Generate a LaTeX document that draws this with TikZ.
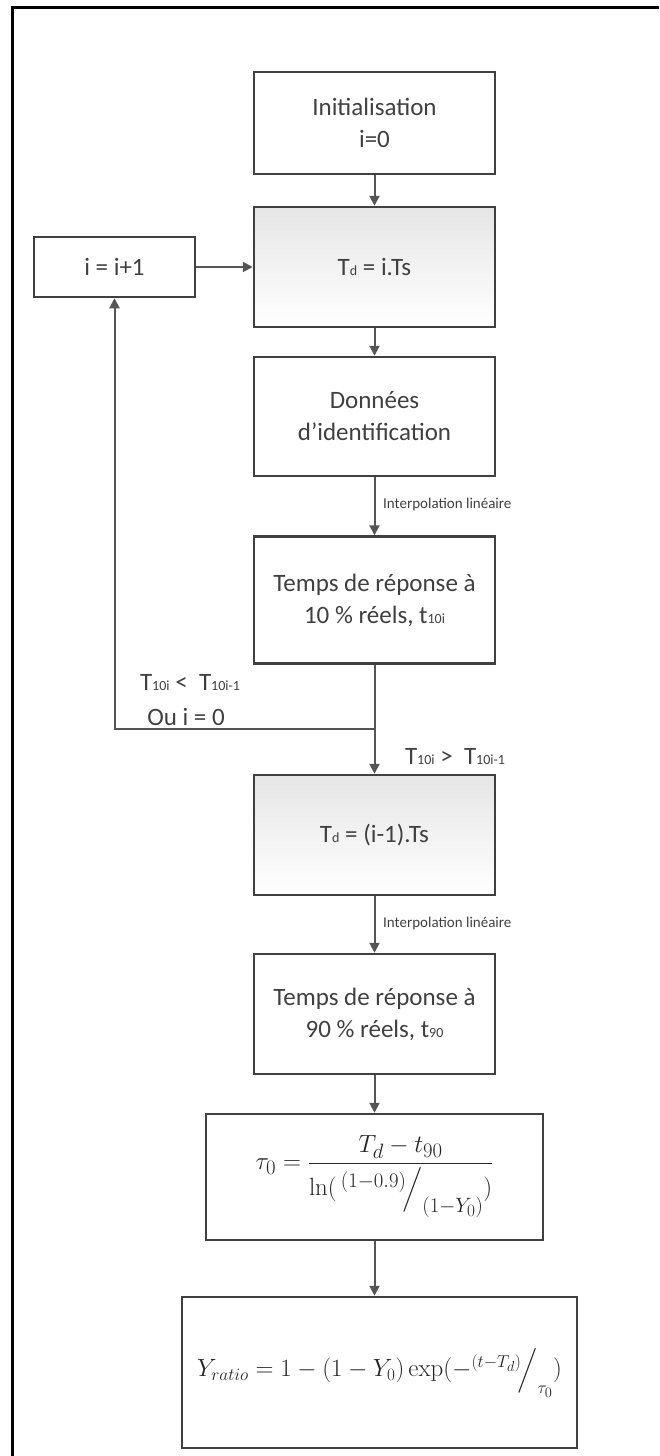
\documentclass[tikz,border=0pt]{standalone}
\usepackage{amsmath}
\usepackage[no-math]{fontspec}
\setmainfont{Carlito}
\usetikzlibrary{arrows.meta}
\DeclareMathSizes{26}{26}{20}{16}
\DeclareMathSizes{24}{24}{19}{15}
\definecolor{txt}{HTML}{404040}
\definecolor{edge}{HTML}{404040}
\definecolor{arr}{HTML}{555555}
\definecolor{mth}{HTML}{262626}
\newcommand{\sbs}[1]{{\fontsize{14}{14}\selectfont #1}}
\begin{document}
\begin{tikzpicture}[x=1pt,y=-1pt,
  box/.style={draw=edge, line width=2.5pt, fill=white, text=txt, align=center,
    font=\fontsize{25}{32}\selectfont, inner sep=0pt, minimum width=241pt},
  shadebox/.style={box, top color=black!10, bottom color=white},
  mathbox/.style={box, text=mth, font=\fontsize{26}{30}\selectfont},
  conn/.style={draw=arr, line width=2pt, -{Triangle[length=10pt,width=10pt]}},
  lbl/.style={text=txt, font=\fontsize{25}{31}\selectfont, inner sep=0pt, align=center},
  smalllbl/.style={text=txt, font=\fontsize{15}{18}\selectfont, inner sep=0pt}]
\useasboundingbox (0,0) rectangle (659,1456);
\draw[line width=3pt] (12,1456) -- (12,7) -- (659,7);

\node[box, minimum height=102pt] (init) at (374.5,123) {Initialisation\\i=0};
\node[shadebox, minimum height=120pt] (td) at (374.5,267) {T\sbs{d} = i.Ts};
\node[box, minimum width=161pt, minimum height=60pt] (inc) at (114.5,267) {i = i+1};
\node[box, minimum height=119pt] (don) at (374.5,416.5) {Données\\d’identification};
\node[box, minimum height=127pt] (t10) at (374.5,600) {Temps de réponse à\\10 \% réels, t\sbs{10i}};
\node[shadebox, minimum height=120pt] (td2) at (374.5,835) {T\sbs{d} = (i-1).Ts};
\node[box, minimum height=120pt] (t90) at (374.5,1014) {Temps de réponse à\\90 \% réels, t\sbs{90}};
\node[mathbox, minimum width=337pt, minimum height=126pt] (tau) at (374.5,1177)
  {$\tau_0 = \dfrac{T_d - t_{90}}{\ln(\,^{(1-0.9)}\!\Big/_{(1-Y_0)})}$};
\node[mathbox, font=\fontsize{24}{28}\selectfont, minimum width=395pt, minimum height=151pt] (yr) at (379.5,1372.5)
  {$Y_{ratio} = 1 - (1-Y_0)\exp(-^{(t-T_d)}\!\Big/_{\tau_0})$};

\coordinate (j) at (374.5,729);

\draw[conn] (init) -- (td);
\draw[conn] (inc) -- (td);
\draw[conn] (td) -- (don);
\draw[conn] (don) -- (t10);
\draw[conn] (t10) -- (td2);
\draw[conn] (j) -| (inc.south);
\draw[conn] (td2) -- (t90);
\draw[conn] (t90) -- (tau);
\draw[conn] (tau.south) -- (tau.south |- yr.north);

\node[smalllbl, anchor=west] (il1) at (383,504) {Interpolation linéaire};
\node[smalllbl, anchor=west] (il2) at (383,923) {Interpolation linéaire};
\node[lbl] (lt) at (190,683) {T\sbs{10i} <\ \ T\sbs{10i-1}};
\node[lbl] (ou) at (186,717) {Ou i = 0};
\node[lbl] (gt) at (455,757) {T\sbs{10i} >\ \ T\sbs{10i-1}};
\end{tikzpicture}
\end{document}
